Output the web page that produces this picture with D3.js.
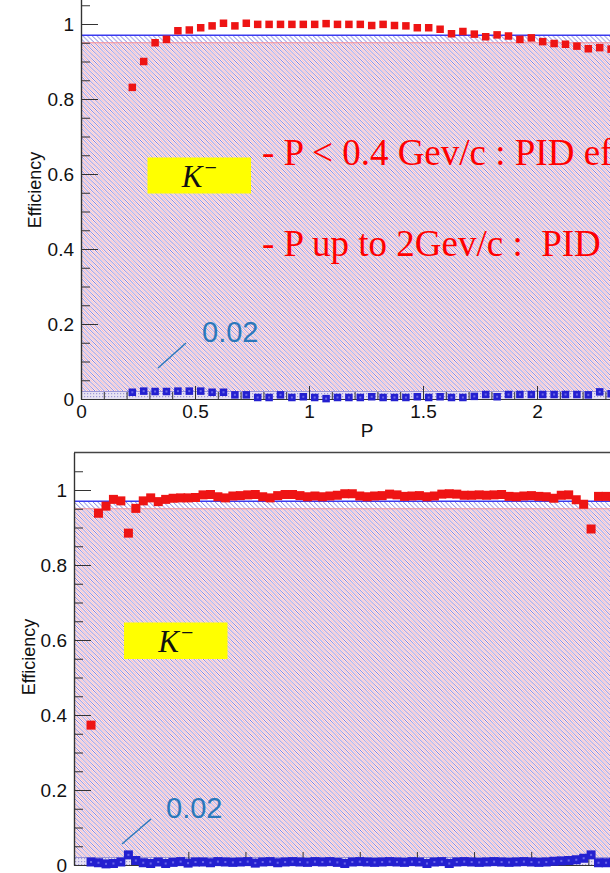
<!DOCTYPE html>
<html><head><meta charset="utf-8">
<script src="https://cdn.jsdelivr.net/npm/d3@7"></script>
<style>body{margin:0;background:#fff;overflow:hidden} svg{display:block}</style>
</head><body>
<svg id="c" width="610" height="873"></svg>
<script>
// ---------- data ----------
const topP = [0.225,0.275,0.325,0.375,0.425,0.475,0.525,0.575,0.625,0.675,0.725,0.775,0.825,0.875,0.925,0.975,
  1.025,1.075,1.125,1.175,1.225,1.275,1.325,1.375,1.425,1.475,1.525,1.575,1.625,1.675,1.725,1.775,1.825,1.875,
  1.925,1.975,2.025,2.075,2.125,2.175,2.225,2.275,2.325];
const topEff = [0.831,0.900,0.950,0.959,0.982,0.984,0.990,0.995,1.002,0.995,1.002,0.999,0.999,0.999,0.999,0.999,
  0.999,1.001,0.999,0.999,0.999,0.996,0.999,0.996,0.995,0.990,0.990,0.986,0.974,0.980,0.973,0.966,0.971,0.968,
  0.959,0.963,0.953,0.948,0.946,0.941,0.934,0.937,0.933];
const topMis = [0.018,0.021,0.020,0.020,0.021,0.021,0.021,0.018,0.018,0.011,0.011,0.004,0.004,0.011,0.004,0.006,
  0.004,0.001,0.004,0.004,0.004,0.006,0.004,0.004,0.004,0.006,0.004,0.006,0.004,0.004,0.007,0.012,0.006,0.012,
  0.012,0.012,0.012,0.012,0.012,0.012,0.011,0.019,0.014];

const botP = [0.149,0.214,0.280,0.345,0.410,0.476,0.541,0.606,0.671,0.737,0.802,0.867,0.933,0.998,1.063,1.129,
  1.194,1.259,1.324,1.390,1.455,1.520,1.586,1.651,1.716,1.782,1.847,1.912,1.977,2.043,2.108,2.173,2.239,2.304,
  2.369,2.435,2.500,2.565,2.630,2.696,2.761,2.826,2.892,2.957,3.022,3.088,3.153,3.218,3.283,3.349,3.414,3.479,
  3.545,3.610,3.675,3.741,3.806,3.871,3.936,4.002,4.067,4.132,4.198,4.263,4.328,4.394,4.459,4.524,4.589,4.655,4.720];
const botEff = [0.373,0.938,0.957,0.975,0.971,0.885,0.951,0.971,0.979,0.969,0.975,0.978,0.979,0.979,0.980,0.987,
  0.988,0.982,0.979,0.984,0.985,0.987,0.988,0.982,0.979,0.985,0.988,0.988,0.985,0.982,0.984,0.982,0.984,0.986,
  0.990,0.990,0.984,0.982,0.984,0.985,0.989,0.987,0.983,0.984,0.985,0.982,0.984,0.989,0.990,0.989,0.986,0.986,
  0.987,0.986,0.987,0.988,0.983,0.982,0.984,0.985,0.983,0.982,0.978,0.986,0.987,0.974,0.962,0.896,0.983,0.983,0.982];
const botMis = [0.008,0.006,0.003,0.004,0.008,0.027,0.012,0.006,0.004,0.008,0.004,0.007,0.009,0.005,0.008,0.008,
  0.006,0.009,0.008,0.007,0.008,0.009,0.005,0.008,0.009,0.006,0.008,0.009,0.008,0.007,0.009,0.008,0.009,0.007,
  0.004,0.008,0.009,0.008,0.007,0.008,0.009,0.008,0.007,0.009,0.008,0.004,0.008,0.009,0.004,0.008,0.009,0.008,
  0.007,0.008,0.009,0.008,0.007,0.008,0.009,0.008,0.007,0.008,0.010,0.011,0.012,0.014,0.018,0.027,0.006,0.006,0.007];

const yMajor = [0,0.2,0.4,0.6,0.8,1];
const yMajorLabels = ["0","0.2","0.4","0.6","0.8","1"];
const yMinor = [0.05,0.1,0.15,0.25,0.3,0.35,0.45,0.5,0.55,0.65,0.7,0.75,0.85,0.9,0.95,1.05];
const xMajorTop = [0,0.5,1,1.5,2];
const xMajorTopLabels = ["0","0.5","1","1.5","2"];
const xMinorTop = [0.1,0.2,0.3,0.4,0.6,0.7,0.8,0.9,1.1,1.2,1.3,1.4,1.6,1.7,1.8,1.9,2.1,2.2,2.3,2.4];
const xMajorBot = [0,0.5,1,1.5,2,2.5,3,3.5,4,4.5];
const xMajorBotLabels = ["0","0.5","1","1.5","2","2.5","3","3.5","4","4.5"];
const refLevels = [0.97, 0.95];   // blue band top, red band top
const lowBand = 0.02;
const noteLines = ["- P < 0.4 Gev/c : PID efficiency", "- P up to 2Gev/c :\u00a0\u00a0PID efficiency"];

// ---------- drawing ----------
const svg = d3.select("#c");
const defs = svg.append("defs");
function hatch(id, color, w, off){
  const p = defs.append("pattern").attr("id", id).attr("patternUnits","userSpaceOnUse")
    .attr("width",4.7).attr("height",4.7).attr("patternTransform",`translate(${off},0)`);
  p.append("path").attr("d","M0,0 L4.7,4.7 M-1,3.7 L1,5.7 M3.7,-1 L5.7,1")
    .attr("stroke",color).attr("stroke-width",w).attr("fill","none");
}
hatch("hb","#6262d8",0.85,0);
hatch("hr","#f3acb8",1.0,2.35);
const dp = defs.append("pattern").attr("id","dots").attr("patternUnits","userSpaceOnUse").attr("width",3).attr("height",3);
dp.append("rect").attr("width",3).attr("height",3).attr("fill","#e8e2f3");
dp.append("rect").attr("width",1.2).attr("height",1.2).attr("fill","#a098d6");

const font = "'Liberation Sans', Arial, Helvetica, sans-serif";

function panel(cfg){
  const {x, y, P, eff, mis} = cfg;
  const g = svg.append("g");
  const x0 = x.range()[0], x1 = x.range()[1];
  g.append("rect").attr("x",x0).attr("width",x1-x0).attr("y",y(refLevels[0])).attr("height",y(0)-y(refLevels[0])).attr("fill","url(#hb)");
  g.append("rect").attr("x",x0).attr("width",x1-x0).attr("y",y(refLevels[1])).attr("height",y(0)-y(refLevels[1])).attr("fill","url(#hr)");
  g.append("line").attr("x1",x0).attr("x2",x1).attr("y1",y(refLevels[1])).attr("y2",y(refLevels[1])).attr("stroke","#f58c96").attr("stroke-width",1.1);
  g.append("line").attr("x1",x0).attr("x2",x1).attr("y1",y(refLevels[0])).attr("y2",y(refLevels[0])).attr("stroke","#3a3af0").attr("stroke-width",1.4);
  g.append("rect").attr("x",x0).attr("width",x1-x0).attr("y",y(lowBand)).attr("height",y(0)-y(lowBand)).attr("fill","url(#dots)");
  g.append("line").attr("x1",x0).attr("x2",x1).attr("y1",y(lowBand)).attr("y2",y(lowBand)).attr("stroke","#9a94d6").attr("stroke-width",1);

  if (cfg.frameTop) g.append("line").attr("x1",x0).attr("x2",x1).attr("y1",y.range()[1]).attr("y2",y.range()[1]).attr("stroke","#444").attr("stroke-width",1.5);

  g.append("g").attr("transform",`translate(${x0},0)`)
    .call(d3.axisLeft(y).tickValues(yMajor).tickFormat((d,i)=>yMajorLabels[i]).tickSizeInner(-17).tickSizeOuter(0).tickPadding(7));
  g.append("g").attr("transform",`translate(${x0},0)`)
    .call(d3.axisLeft(y).tickValues(yMinor).tickFormat("").tickSizeInner(-9).tickSizeOuter(0));
  g.append("g").attr("transform",`translate(0,${y(0)})`)
    .call(d3.axisBottom(x).tickValues(cfg.xMajor).tickFormat((d,i)=>cfg.xLabels[i]).tickSizeInner(-13).tickSizeOuter(0).tickPadding(cfg.xPad));
  if (cfg.xMinor) g.append("g").attr("transform",`translate(0,${y(0)})`)
    .call(d3.axisBottom(x).tickValues(cfg.xMinor).tickFormat("").tickSizeInner(-7).tickSizeOuter(0));
  g.selectAll(".domain").attr("stroke","#333").attr("stroke-width",1.2);
  g.selectAll(".tick line").attr("stroke","#333");
  g.selectAll(".tick text").attr("font-family",font).attr("font-size",19).attr("fill","#111");

  const s = cfg.ms;
  g.append("g").selectAll("rect").data(P).join("rect")
    .attr("x",(d)=>x(d)-s/2).attr("y",(d,i)=>y(mis[i])-s/2).attr("width",s).attr("height",s).attr("fill","#2420d0");
  g.append("g").selectAll("rect").data(P).join("rect")
    .attr("x",(d)=>x(d)-1).attr("y",(d,i)=>y(mis[i])-1).attr("width",2).attr("height",2).attr("fill","#6a66e6");
  g.append("g").selectAll("rect").data(P).join("rect")
    .attr("x",(d)=>x(d)-s/2).attr("y",(d,i)=>y(eff[i])-s/2).attr("width",s).attr("height",s).attr("fill","#ee1414");

  g.append("text").attr("transform",`translate(${cfg.titleX},${cfg.titleY}) rotate(-90)`)
    .attr("text-anchor","middle").attr("font-family",font).attr("font-size",18).attr("fill","#111").text("Efficiency");
  if (cfg.xTitle) g.append("text").attr("x",cfg.xTitle[0]).attr("y",cfg.xTitle[1]).attr("text-anchor","middle")
    .attr("font-family",font).attr("font-size",19).attr("fill","#111").text("P");

  const kb = cfg.kbox;
  g.append("rect").attr("x",kb[0]).attr("y",kb[1]).attr("width",kb[2]).attr("height",kb[3]).attr("fill","#ffff00");
  const kt = g.append("text").attr("x",kb[0]+kb[2]/2).attr("y",kb[1]+kb[3]-7).attr("text-anchor","middle")
    .attr("font-family","'Liberation Serif', 'Times New Roman', serif").attr("font-size",31).attr("fill","#111");
  kt.append("tspan").attr("font-style","italic").text("K");
  kt.append("tspan").attr("dx",2).attr("dy",-12).attr("font-size",22).text("\u2212");

  const an = cfg.ann;
  g.append("line").attr("x1",an[0]).attr("y1",an[1]).attr("x2",an[2]).attr("y2",an[3]).attr("stroke","#2b78bb").attr("stroke-width",1.5);
  g.append("text").attr("x",an[4]).attr("y",an[5]).attr("font-family",font).attr("font-size",29).attr("fill","#2b78bb").text("0.02");
  return g;
}

const xTop = d3.scaleLinear().domain([0,2.5]).range([81, 81+2.5*228]);
const yTop = d3.scaleLinear().domain([0,1.1]).range([399, 399-1.1*375]);
panel({x:xTop, y:yTop, P:topP, eff:topEff, mis:topMis, xMajor:xMajorTop, xLabels:xMajorTopLabels, xMinor:xMinorTop, xPad:6, ms:7.5,
  titleX:41, titleY:190, xTitle:[367,437], kbox:[147.5,157.5,103.5,36], ann:[158,368,186,343,202,342], frameTop:false});

const xBot = d3.scaleLinear().domain([0,5]).range([74, 74+5*114.3]);
const yBot = d3.scaleLinear().domain([0,1.1]).range([865, 865-1.1*375]);
panel({x:xBot, y:yBot, P:botP, eff:botEff, mis:botMis, xMajor:xMajorBot, xLabels:xMajorBotLabels, xMinor:null, xPad:8, ms:9,
  titleX:35, titleY:657, xTitle:null, kbox:[124,622.5,103.5,36.5], ann:[122,844,151,819,166,818], frameTop:true});

const rt = svg.append("g").attr("font-family","'Liberation Serif', 'Times New Roman', serif").attr("font-size",37).attr("fill","#ff0000");
rt.append("text").attr("x",262).attr("y",165).text(noteLines[0]);
rt.append("text").attr("x",262).attr("y",256).text(noteLines[1]);
</script>
</body></html>
